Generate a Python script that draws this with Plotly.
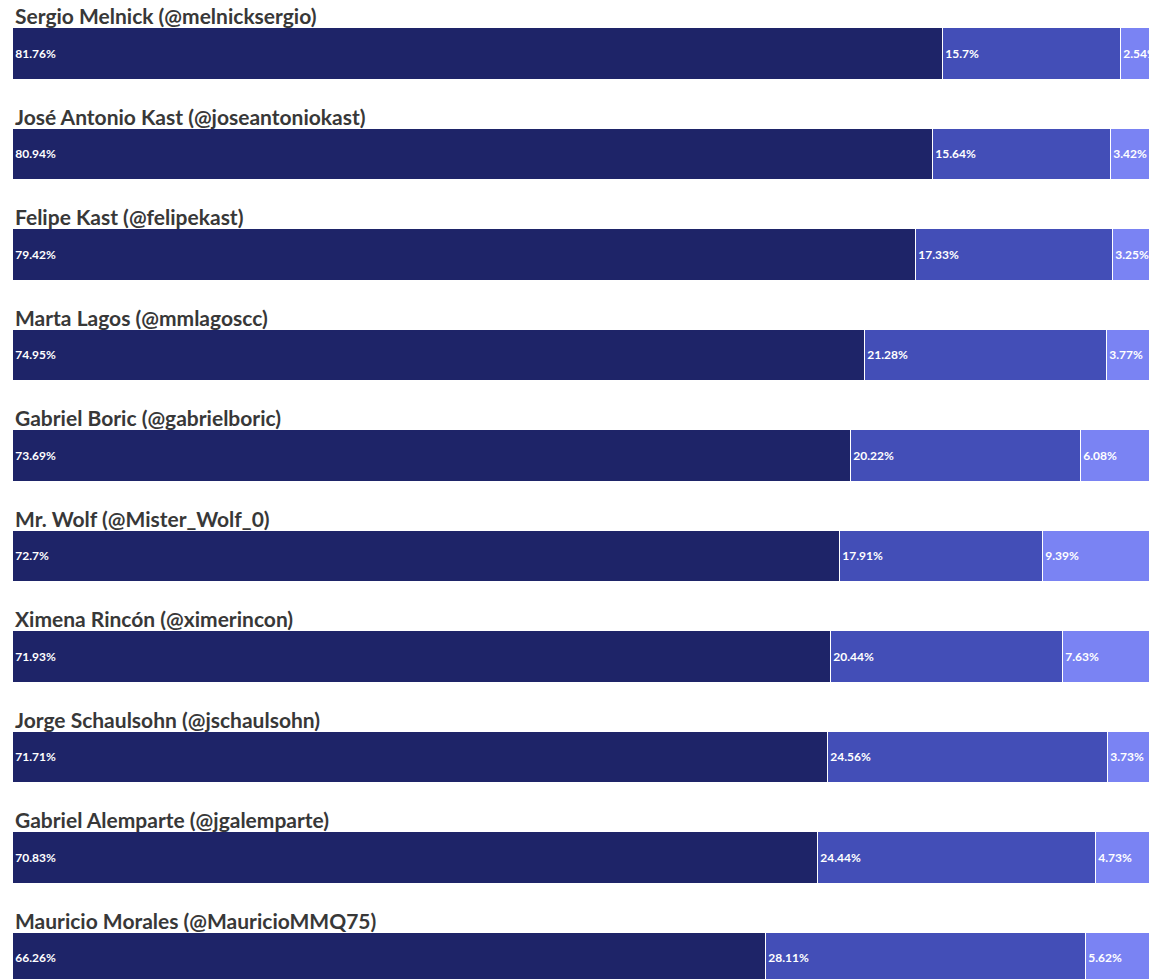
import plotly.graph_objects as go

# Accounts and the share of each sentiment segment (%)
accounts = [
    "Sergio Melnick (@melnicksergio)",
    "José Antonio Kast (@joseantoniokast)",
    "Felipe Kast (@felipekast)",
    "Marta Lagos (@mmlagoscc)",
    "Gabriel Boric (@gabrielboric)",
    "Mr. Wolf (@Mister_Wolf_0)",
    "Ximena Rincón (@ximerincon)",
    "Jorge Schaulsohn (@jschaulsohn)",
    "Gabriel Alemparte (@jgalemparte)",
    "Mauricio Morales (@MauricioMMQ75)",
]
segment_a = [81.76, 80.94, 79.42, 74.95, 73.69, 72.7, 71.93, 71.71, 70.83, 66.26]
segment_b = [15.7, 15.64, 17.33, 21.28, 20.22, 17.91, 20.44, 24.56, 24.44, 28.11]
segment_c = [2.54, 3.42, 3.25, 3.77, 6.08, 9.39, 7.63, 3.73, 4.73, 5.62]

colors = ["#1e2468", "#434eb7", "#7a83f3"]

rows = list(range(len(accounts)))

fig = go.Figure()
for vals, col in zip([segment_a, segment_b, segment_c], colors):
    fig.add_trace(go.Bar(
        y=rows,
        x=vals,
        orientation="h",
        width=0.51,
        marker=dict(color=col, line=dict(color="white", width=1.5)),
        text=[f"{v:g}%" for v in vals],
        textposition="inside",
        insidetextanchor="start",
        textangle=0,
        constraintext="none",
        cliponaxis=True,
        textfont=dict(family="Lato", size=12, color="white", weight="bold"),
        hoverinfo="skip",
        showlegend=False,
    ))

for i, name in enumerate(accounts):
    fig.add_annotation(
        x=0, xref="x", xanchor="left",
        y=i - 0.255, yref="y", yanchor="bottom",
        yshift=-2,
        text=f"<b>{name}</b>",
        showarrow=False,
        align="left",
        font=dict(family="Lato", size=21, color="#383838"),
    )

fig.update_layout(
    barmode="stack",
    width=1156, height=979,
    margin=dict(l=13, r=6, t=0, b=0),
    plot_bgcolor="white",
    paper_bgcolor="white",
    bargap=0,
    xaxis=dict(range=[0, 100], visible=False, fixedrange=True),
    yaxis=dict(range=[9.204, -0.537], visible=False, fixedrange=True),
)

fig.write_html("out.html")
